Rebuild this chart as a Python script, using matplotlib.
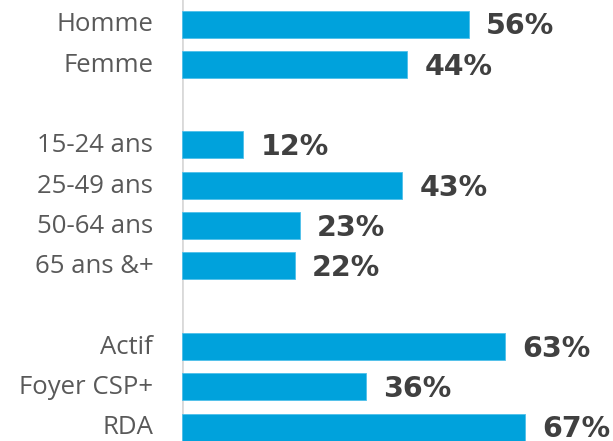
import matplotlib
matplotlib.use('Agg')
import matplotlib.pyplot as plt
import numpy as np

labels = ['Homme', 'Femme', '', '15-24 ans', '25-49 ans', '50-64 ans', '65 ans &+',
          '', 'Actif', 'Foyer CSP+', 'RDA']
values = [56, 44, None, 12, 43, 23, 22, None, 63, 36, 67]

fig = plt.figure(figsize=(6.13, 4.41), dpi=100)
ax = fig.add_axes([182/613, 0, 431/613, 1])

for i, (lab, v) in enumerate(zip(labels, values)):
    if v is None:
        continue
    ax.barh(i, v, height=0.67, color='#00A2DC', edgecolor='#4FC0EA', linewidth=0.6)
    ax.text(v + 3.3, i + 0.06, f'{v}%', va='center', ha='left', fontsize=20.5,
            fontweight='bold', family='DejaVu Sans', color='#404040')
    ax.text(-5.6, i + 0.02, lab, va='center', ha='right', fontsize=18.5,
            family='Open Sans', color='#595959')

ax.set_xlim(0, 84.1)
ax.set_ylim(10.347, -0.596)
ax.axvline(0, color='#D9D9D9', lw=2, zorder=0)
ax.axis('off')

fig.savefig('out.png', dpi=100)
